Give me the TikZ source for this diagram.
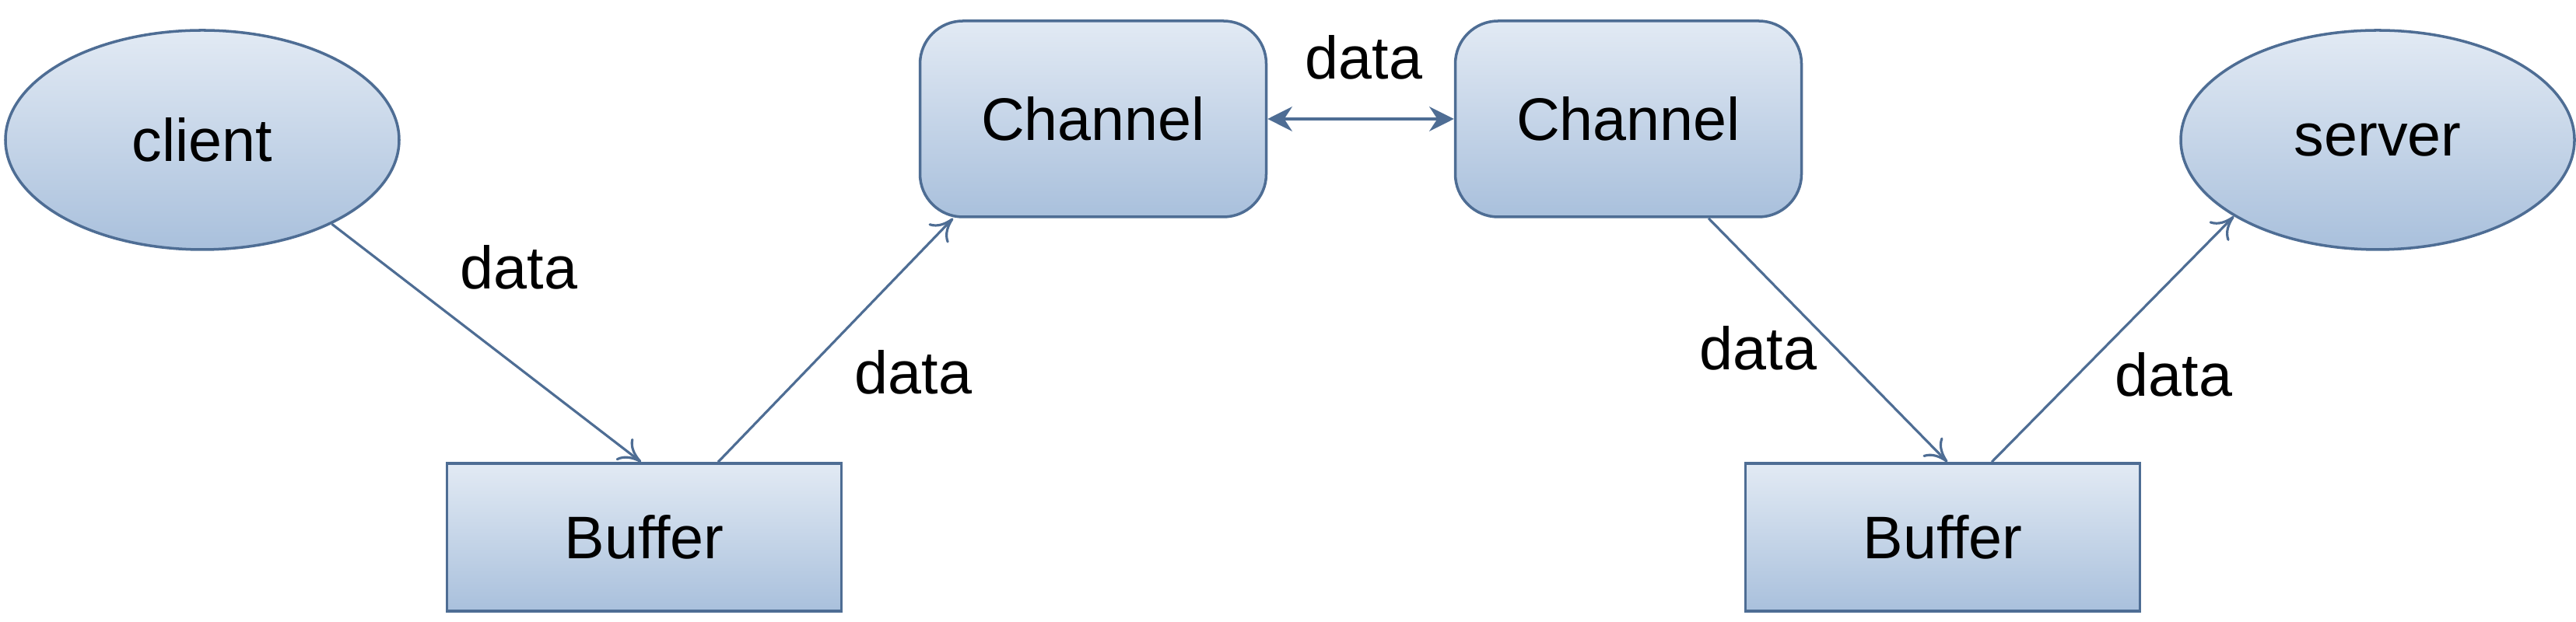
\documentclass[tikz,border=0pt]{standalone}
\usepackage{fontspec}
\setmainfont{Liberation Sans}
\usetikzlibrary{shapes.geometric, arrows.meta}
\definecolor{edge}{HTML}{4E6D94}
\definecolor{topblue}{HTML}{E2EAF4}
\definecolor{botblue}{HTML}{A9C0DC}
\tikzset{
every node/.style={font=\fontsize{22}{26}\selectfont},
box/.style={draw=edge, line width=1pt, top color=topblue, bottom color=botblue}, % shaded blue shapes
peer/.style={box, ellipse, minimum width=5.06cm, minimum height=2.82cm},
chan/.style={box, rounded corners=0.55cm, minimum width=4.45cm, minimum height=2.52cm},
buf/.style={box, minimum width=5.07cm, minimum height=1.9cm},
flow/.style={draw=edge, line width=0.9pt, -{To[length=8pt,width=10pt]}},
}
\begin{document}
\begin{tikzpicture}
\useasboundingbox (0,0) rectangle (33.11,8);
\node[peer] (client) at (2.60,6.20) {client};
\node[chan] (ch1) at (14.05,6.47) {Channel};
\node[chan] (ch2) at (20.93,6.47) {Channel};
\node[peer] (server) at (30.56,6.20) {server};
\node[buf] (buf1) at (8.28,1.09) {Buffer};
\node[buf] (buf2) at (24.97,1.09) {Buffer};
% labels of the connectors
\node (d1) at (6.67,4.56) {data};
\node (d2) at (11.74,3.21) {data};
\node (d3) at (17.53,7.26) {data};
\node (d4) at (22.60,3.52) {data};
\node (d5) at (27.94,3.18) {data};
\draw[flow] (client.-33) -- ([xshift=-0.04cm]buf1.north);
\draw[flow] ([xshift=0.95cm]buf1.north) -- ([xshift=-1.8cm]ch1.south);
\draw[draw=edge, line width=1pt, {Stealth[length=9pt,width=9pt]}-{Stealth[length=9pt,width=9pt]}] (ch1.east) -- (ch2.west);
\draw[flow] ([xshift=1.03cm]ch2.south) -- ([xshift=0.06cm]buf2.north);
\draw[flow] ([xshift=0.63cm]buf2.north) -- (server.208);
\end{tikzpicture}
\end{document}
